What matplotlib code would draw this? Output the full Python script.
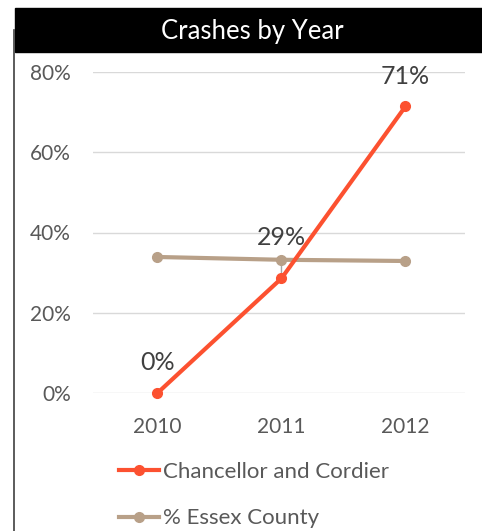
import matplotlib.pyplot as plt
from matplotlib.patches import Rectangle
from matplotlib.lines import Line2D
from matplotlib.ticker import FuncFormatter

plt.rcParams['font.family'] = ['Lato', 'DejaVu Sans']

years = ['2010', '2011', '2012']
chancellor = [0.0, 0.2857, 0.7143]
essex = [0.339, 0.332, 0.329]
label_texts = ['0%', '29%', '71%']

red = '#FC5130'
tan = '#B8A088'
txt = '#595959'

fig = plt.figure(figsize=(4.82, 5.31), dpi=100)
ax = fig.add_axes([93 / 482, 1 - 393 / 531, (465 - 93) / 482, (393 - 72) / 531])

x = list(range(len(years)))
ax.plot(x, essex, color=tan, lw=3, marker='o', ms=7, zorder=3, clip_on=False)
ax.plot(x, chancellor, color=red, lw=3, marker='o', ms=7, zorder=4, clip_on=False)

# data labels
ax.annotate(label_texts[0], (x[0], chancellor[0]), xytext=(0, 22), textcoords='offset points',
            ha='center', va='center', fontsize=18, color='#404040')
ax.annotate(label_texts[1], (x[1], chancellor[1]), xytext=(0, 29.5), textcoords='offset points',
            ha='center', va='center', fontsize=18, color='#404040',
            arrowprops=dict(arrowstyle='-', color='#A6A6A6', lw=1, shrinkA=7, shrinkB=3), zorder=2)
ax.annotate(label_texts[2], (x[2], chancellor[2]), xytext=(0, 21.5), textcoords='offset points',
            ha='center', va='center', fontsize=18, color='#404040')

ax.set_xlim(-0.52, 2.48)
ax.set_ylim(0, 0.8)
ax.set_yticks([0, 0.2, 0.4, 0.6, 0.8])
ax.yaxis.set_major_formatter(FuncFormatter(lambda v, p: f'{v * 100:.0f}%'))
ax.set_xticks(x)
ax.set_xticklabels(years)
ax.tick_params(length=0, labelsize=15, colors=txt)
ax.tick_params(axis='x', pad=17)
ax.tick_params(axis='y', pad=16)
ax.grid(axis='y', color='#D9D9D9', lw=1)
ax.set_axisbelow(True)
for s in ax.spines.values():
    s.set_visible(False)

# title bar
fig.patches.append(Rectangle((15 / 482, 1 - 52 / 531), 1, 44 / 531, transform=fig.transFigure,
                             color='black', zorder=0))
fig.text(252 / 482, 1 - 32 / 531, 'Crashes by Year', color='white', fontsize=18.5,
         ha='center', va='center')
fig.lines.append(Line2D([14 / 482, 14 / 482], [0, 1 - 30 / 531], transform=fig.transFigure,
                        color='#404040', lw=1.2))

# legend
handles = [Line2D([], [], color=red, lw=3, marker='o', ms=7),
           Line2D([], [], color=tan, lw=3, marker='o', ms=7)]
fig.legend(handles, ['Chancellor and Cordier', '% Essex County'], loc='upper left',
           bbox_to_anchor=(112 / 482, 1 - 455 / 531), frameon=False, fontsize=16,
           labelcolor=txt, handlelength=1.8, handletextpad=0.2, labelspacing=1.2,
           borderaxespad=0, borderpad=0.3)

fig.savefig('out.png', dpi=100)
